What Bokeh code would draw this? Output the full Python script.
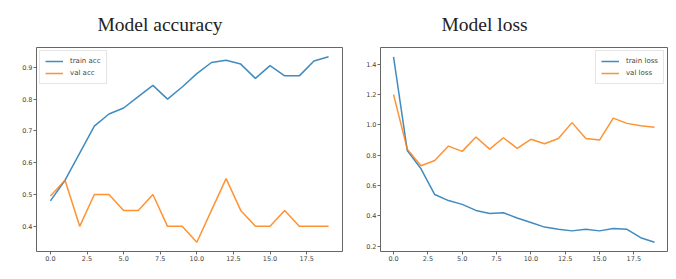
from bokeh.plotting import figure
from bokeh.layouts import row
from bokeh.models import Range1d, FixedTicker, NumeralTickFormatter, Legend, LegendItem
from bokeh.embed import file_html
from bokeh.resources import INLINE

epochs = list(range(20))
train_acc = [0.48, 0.545, 0.63, 0.715, 0.753, 0.772, 0.808, 0.843, 0.80, 0.838,
             0.88, 0.915, 0.922, 0.91, 0.865, 0.905, 0.873, 0.873, 0.92, 0.933]
val_acc = [0.495, 0.545, 0.40, 0.50, 0.50, 0.45, 0.45, 0.50, 0.40, 0.40,
           0.35, 0.45, 0.55, 0.45, 0.40, 0.40, 0.45, 0.40, 0.40, 0.40]
train_loss = [1.45, 0.83, 0.71, 0.54, 0.50, 0.475, 0.435, 0.415, 0.42, 0.385,
              0.355, 0.325, 0.31, 0.30, 0.31, 0.30, 0.315, 0.31, 0.255, 0.225]
val_loss = [1.20, 0.84, 0.73, 0.765, 0.86, 0.825, 0.92, 0.84, 0.915, 0.845,
            0.905, 0.875, 0.91, 1.015, 0.91, 0.90, 1.045, 1.01, 0.995, 0.985]

x_ticks = [0.0, 2.5, 5.0, 7.5, 10.0, 12.5, 15.0, 17.5]
acc_ticks = [0.4, 0.5, 0.6, 0.7, 0.8, 0.9]
loss_ticks = [0.2, 0.4, 0.6, 0.8, 1.0, 1.2, 1.4]

BLUE = "#1f77b4"
ORANGE = "#ff7f0e"


def padded(lo, hi, frac=0.05):
    d = (hi - lo) * frac
    return lo - d, hi + d


def make_fig(title, ys, labels, yticks, loc, width, border_l, border_r):
    x0, x1 = padded(min(epochs), max(epochs))
    allv = ys[0] + ys[1]
    y0, y1 = padded(min(allv), max(allv))
    p = figure(width=width, height=263,
               x_range=Range1d(x0, x1), y_range=Range1d(y0, y1),
               output_backend="svg", toolbar_location=None,
               background_fill_color="white", border_fill_color="white")
    p.min_border_left = border_l
    p.min_border_right = border_r
    p.min_border_top = 47
    p.min_border_bottom = 10
    p.title.text = title
    p.title.text_font = "Liberation Serif"
    p.title.text_font_size = "19.5px"
    p.title.text_font_style = "normal"
    p.title.text_color = "#222222"
    p.title.align = "left"
    p.title.vertical_align = "top"
    p.title.offset = 61
    p.title.standoff = 22
    p.grid.visible = False
    p.outline_line_color = "#666666"
    p.outline_line_width = 1
    for ax in (p.xaxis[0], p.yaxis[0]):
        ax.axis_line_color = None
        ax.major_tick_line_color = "#666666"
        ax.major_tick_out = 3
        ax.major_tick_in = 0
        ax.minor_tick_line_color = None
        ax.major_label_text_font = "DejaVu Sans"
        ax.major_label_text_font_size = "6.5px"
        ax.major_label_text_color = "#444444"
        ax.major_label_standoff = 1
        ax.axis_label_standoff = 0
        ax.formatter = NumeralTickFormatter(format="0.0")
    p.xaxis[0].ticker = FixedTicker(ticks=x_ticks)
    p.yaxis[0].ticker = FixedTicker(ticks=yticks)

    r1 = p.line(epochs, ys[0], line_color=BLUE, line_width=1.5, line_alpha=0.85)
    r2 = p.line(epochs, ys[1], line_color=ORANGE, line_width=1.5, line_alpha=0.85)
    leg = Legend(items=[LegendItem(label=labels[0], renderers=[r1]),
                        LegendItem(label=labels[1], renderers=[r2])],
                 location=loc)
    leg.label_text_font = "DejaVu Sans"
    leg.label_text_font_size = "7px"
    leg.label_text_color = "#444444"
    leg.glyph_width = 18
    leg.glyph_height = 10
    leg.label_height = 10
    leg.label_standoff = 7
    leg.spacing = 2
    leg.padding = 5
    leg.margin = 3
    leg.border_line_color = "#cccccc"
    leg.border_line_width = 1
    leg.background_fill_color = "white"
    leg.background_fill_alpha = 0.9
    p.add_layout(leg)
    return p


p1 = make_fig("Model accuracy", [train_acc, val_acc], ["train acc", "val acc"],
              acc_ticks, "top_left", 345, 36, 3)
p2 = make_fig("Model loss", [train_loss, val_loss], ["train loss", "val loss"],
              loss_ticks, "top_right", 323, 35, 1)

layout = row(p1, p2)
open("out.html", "w").write(file_html(layout, INLINE))
